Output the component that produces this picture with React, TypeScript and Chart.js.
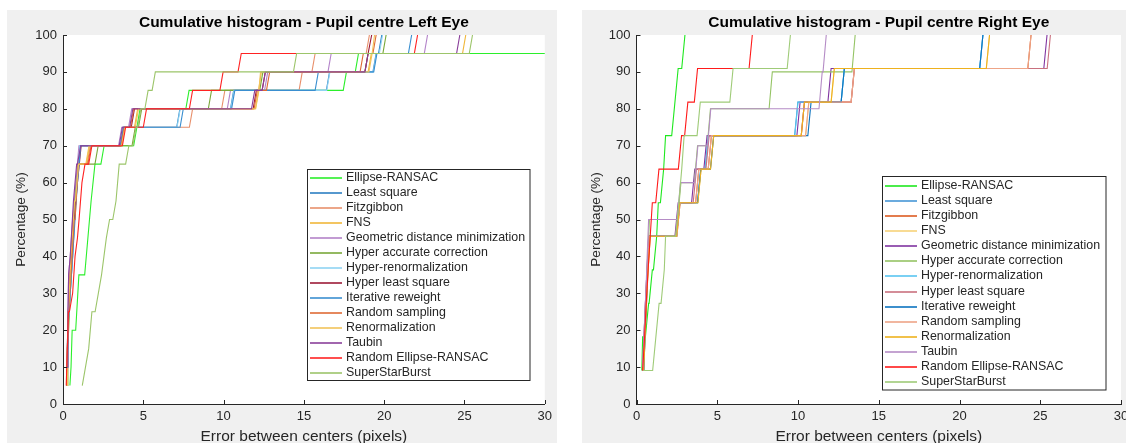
import React, { useEffect, useRef } from "react";
import { Chart, registerables } from "chart.js";

Chart.register(...registerables);

type Pt = [number, number];

const SERIES_NAMES = [
  "Ellipse-RANSAC",
  "Least square",
  "Fitzgibbon",
  "FNS",
  "Geometric distance minimization",
  "Hyper accurate correction",
  "Hyper-renormalization",
  "Hyper least square",
  "Iterative reweight",
  "Random sampling",
  "Renormalization",
  "Taubin",
  "Random Ellipse-RANSAC",
  "SuperStarBurst",
];

const X_TICKS = [0, 5, 10, 15, 20, 25, 30];
const Y_TICKS = [0, 10, 20, 30, 40, 50, 60, 70, 80, 90, 100];
const LEFT_TITLE = "Cumulative histogram - Pupil centre Left Eye";
const RIGHT_TITLE = "Cumulative histogram - Pupil centre Right Eye";
const X_LABEL = "Error between centers (pixels)";
const Y_LABEL = "Percentage (%)";

const LEFT_COLORS = [
  "#2bef2b", "#2c7fc2", "#e8906c", "#f0b73a", "#b383c9", "#7aa83a", "#8fd3f3",
  "#9c1a36", "#3a8fd0", "#df6a35", "#f2c35a", "#8a3f9a", "#ff2222", "#9cc56a",
];
const RIGHT_COLORS = [
  "#1fe81f", "#4797d6", "#dc5c22", "#f7d27a", "#8034a0", "#95c465", "#58c5f0",
  "#c9707e", "#0b73bf", "#eea487", "#eeb11e", "#b58cc6", "#ff1a1a", "#9fcb78",
];

// ---- Left eye: [error (px), cumulative %] at each histogram step ----
const leftEllipseRansac: Pt[] = [[0.43,5],[0.5,10],[0.57,20],[0.99,35],[1.55,45],[1.75,55],[1.99,65],[2.56,70],[4.6,75],[4.8,80],[7.85,85],[17.65,90],[18.4,95],[32,95]];
const leftLeastSquare: Pt[] = [[0.22,10],[0.3,20],[0.45,30],[0.6,40],[0.72,50],[0.87,60],[1.05,70],[3.75,75],[7.28,80],[10.63,85],[16.6,90],[19.5,95],[19.85,100]];
const leftFitzgibbon: Pt[] = [[0.22,5],[0.26,15],[0.33,25],[0.5,40],[0.7,55],[0.92,65],[1.7,70],[3.8,75],[8.07,80],[10.08,85],[14.9,90],[15.7,95],[19.08,100]];
const leftFNS: Pt[] = [[0.25,5],[0.28,15],[0.33,25],[0.5,40],[0.7,55],[0.95,65],[1.65,70],[3.85,75],[4.65,80],[12.18,85],[12.35,90],[19.2,95],[25.08,100]];
const leftGeometric: Pt[] = [[0.25,15],[0.3,25],[0.35,35],[0.45,40],[0.6,50],[0.8,60],[0.99,70],[3.66,75],[4.28,80],[10.43,85],[12.75,90],[16.7,95],[22.7,100]];
const leftHyperAccurate: Pt[] = [[0.25,5],[0.3,15],[0.4,25],[0.55,40],[0.75,55],[0.95,65],[2.19,70],[4.5,75],[4.9,80],[9.25,85],[12.45,90],[19.0,95],[20.12,100]];
const leftHyperRenorm: Pt[] = [[0.22,5],[0.26,10],[0.3,20],[0.45,30],[0.6,40],[0.72,50],[0.87,60],[1.05,70],[3.72,75],[7.3,80],[10.65,85],[16.62,90],[19.52,95],[19.9,100]];
const leftHyperLeast: Pt[] = [[0.25,5],[0.28,15],[0.33,25],[0.45,35],[0.65,50],[0.9,60],[1.13,70],[3.8,75],[4.45,80],[12.04,85],[12.6,90],[19.0,95],[19.22,100]];
const leftIterative: Pt[] = [[0.22,5],[0.25,10],[0.3,20],[0.45,30],[0.6,40],[0.75,50],[0.9,60],[1.1,70],[3.78,75],[7.49,80],[10.7,85],[15.9,90],[19.55,95],[21.71,100]];
const leftRandomSampling: Pt[] = [[0.22,5],[0.27,15],[0.35,25],[0.5,35],[0.7,50],[0.95,65],[1.75,70],[3.82,75],[4.4,80],[12.1,85],[12.87,90],[18.7,95],[19.5,100]];
const leftRenorm: Pt[] = [[0.25,5],[0.28,15],[0.33,25],[0.5,40],[0.72,55],[0.97,65],[1.62,70],[3.85,75],[4.7,80],[12.2,85],[12.3,90],[19.25,95],[19.4,100]];
const leftTaubin: Pt[] = [[0.25,10],[0.3,20],[0.35,35],[0.45,40],[0.65,55],[0.85,65],[1.1,70],[3.7,75],[4.35,80],[11.94,85],[12.6,90],[19.0,95],[24.71,100]];
const leftRandomEllipse: Pt[] = [[0.2,5],[0.27,15],[0.34,25],[0.6,30],[0.75,40],[0.9,45],[1.0,50],[1.18,60],[1.37,65],[1.8,70],[3.9,75],[5.2,80],[8.07,85],[9.97,90],[11.1,95],[22.08,100]];
const leftSuperStarBurst: Pt[] = [[1.2,5],[1.4,10],[1.6,15],[1.8,25],[2.2,30],[2.4,35],[2.55,40],[2.7,45],[2.9,50],[3.3,55],[3.5,65],[4.1,70],[4.55,75],[4.85,80],[5.3,85],[5.75,90],[14.55,95],[25.5,100]];

// ---- Right eye ----
const rightEllipseRansac: Pt[] = [[0.33,9.09],[0.38,18.18],[0.75,27.27],[0.98,36.36],[1.25,45.45],[1.35,54.55],[1.68,63.64],[1.8,72.73],[2.38,81.82],[2.58,90.91],[3.0,100]];
const rightLeastSquare: Pt[] = [[0.45,9.09],[0.52,18.18],[0.6,27.27],[0.68,36.36],[0.8,45.45],[2.68,54.55],[3.98,63.64],[4.45,72.73],[9.99,81.82],[12.87,90.91],[21.45,100]];
const rightFitzgibbon: Pt[] = [[0.42,9.09],[0.5,18.18],[0.58,27.27],[0.68,36.36],[0.8,45.45],[2.7,54.55],[3.86,63.64],[4.64,72.73],[10.4,81.82],[13.49,90.91],[24.43,100]];
const rightFNS: Pt[] = [[0.45,9.09],[0.53,18.18],[0.62,27.27],[0.72,36.36],[0.85,45.45],[2.68,54.55],[4.0,63.64],[4.78,72.73],[10.67,81.82],[12.25,90.91],[21.86,100]];
const rightGeometric: Pt[] = [[0.38,9.09],[0.46,18.18],[0.55,27.27],[0.65,36.36],[0.75,45.45],[2.58,54.55],[3.61,63.64],[4.37,72.73],[10.13,81.82],[12.05,90.91],[25.42,100]];
const rightHyperAccurate: Pt[] = [[0.4,10],[0.5,20],[0.6,30],[0.7,40],[0.8,50],[2.75,60],[3.78,70],[4.58,80],[8.41,90],[13.54,100]];
const rightHyperRenorm: Pt[] = [[0.45,9.09],[0.52,18.18],[0.6,27.27],[0.68,36.36],[0.8,45.45],[2.68,54.55],[3.98,63.64],[4.45,72.73],[10.0,81.82],[12.87,90.91],[21.45,100]];
const rightHyperLeast: Pt[] = [[0.38,9.09],[0.46,18.18],[0.55,27.27],[0.65,36.36],[0.78,45.45],[2.62,54.55],[3.71,63.64],[4.5,72.73],[10.4,81.82],[13.49,90.91],[25.63,100]];
const rightIterative: Pt[] = [[0.45,9.09],[0.53,18.18],[0.62,27.27],[0.7,36.36],[0.82,45.45],[2.68,54.55],[3.98,63.64],[4.78,72.73],[10.81,81.82],[12.87,90.91],[21.45,100]];
const rightRandomSampling: Pt[] = [[0.42,9.09],[0.5,18.18],[0.58,27.27],[0.68,36.36],[0.8,45.45],[2.7,54.55],[3.86,63.64],[4.64,72.73],[10.67,81.82],[13.49,90.91],[24.43,100]];
const rightRenorm: Pt[] = [[0.45,9.09],[0.53,18.18],[0.62,27.27],[0.72,36.36],[0.85,45.45],[2.68,54.55],[4.0,63.64],[4.78,72.73],[10.4,81.82],[12.25,90.91],[21.86,100]];
const rightTaubin: Pt[] = [[0.38,10],[0.48,20],[0.58,30],[0.66,40],[0.75,50],[2.72,60],[3.8,70],[4.6,80],[11.5,90],[11.75,100]];
const rightRandomEllipse: Pt[] = [[0.38,9.09],[0.5,18.18],[0.6,27.27],[0.72,36.36],[0.85,45.45],[0.98,54.55],[1.39,63.64],[2.79,72.73],[3.18,81.82],[3.78,90.91],[7.17,100]];
const rightSuperStarBurst: Pt[] = [[0.42,9.09],[1.2,18.18],[1.4,27.27],[1.72,36.36],[1.8,45.45],[2.62,54.55],[2.8,63.64],[2.95,72.73],[3.95,81.82],[5.98,90.91],[9.53,100]];

const LEFT_SERIES = [
  leftEllipseRansac, leftLeastSquare, leftFitzgibbon, leftFNS, leftGeometric, leftHyperAccurate,
  leftHyperRenorm, leftHyperLeast, leftIterative, leftRandomSampling, leftRenorm, leftTaubin,
  leftRandomEllipse, leftSuperStarBurst,
];
const RIGHT_SERIES = [
  rightEllipseRansac, rightLeastSquare, rightFitzgibbon, rightFNS, rightGeometric, rightHyperAccurate,
  rightHyperRenorm, rightHyperLeast, rightIterative, rightRandomSampling, rightRenorm, rightTaubin,
  rightRandomEllipse, rightSuperStarBurst,
];

const FONT = "'Liberation Sans', Arial, Helvetica, sans-serif";
const AXIS = "#262626";
const RISE = 0.2; // width of one histogram bin (slanted rise)

function stepPath(steps: Pt[], rise: number) {
  const out: { x: number; y: number }[] = [];
  steps.forEach(([x, y], i) => {
    if (i > 0) {
      const [px, py] = steps[i - 1];
      if (x - px > rise * 1.05) out.push({ x: x - rise, y: py });
    }
    out.push({ x, y });
  });
  return out;
}

type LegendGeom = { x: number; y: number; w: number; h: number; row0: number; rowH: number; line0: number; line1: number; text: number };

type PanelProps = {
  left: number;
  width: number;
  title: string;
  series: Pt[][];
  colors: string[];
  yWidth: number;
  padRight: number;
  legend: LegendGeom;
};

function Panel({ left, width, title, series, colors, yWidth, padRight, legend }: PanelProps) {
  const ref = useRef<HTMLCanvasElement | null>(null);
  const height = 433;

  useEffect(() => {
    if (!ref.current) return;
    const bgPlugin = {
      id: "plotBg",
      beforeDraw(chart: any) {
        const { ctx, chartArea: a } = chart;
        ctx.save();
        ctx.fillStyle = "#ffffff";
        ctx.fillRect(a.left, a.top, a.right - a.left, a.bottom - a.top);
        ctx.restore();
      },
    };
    const tickPlugin = {
      id: "inTicks",
      afterDraw(chart: any) {
        const { ctx, chartArea: a, scales } = chart;
        ctx.save();
        ctx.strokeStyle = AXIS;
        ctx.lineWidth = 1;
        ctx.beginPath();
        Y_TICKS.forEach((v) => {
          const py = Math.round(scales.y.getPixelForValue(v)) + 0.5;
          ctx.moveTo(a.left, py);
          ctx.lineTo(a.left + 4, py);
        });
        X_TICKS.forEach((v) => {
          const px = Math.round(scales.x.getPixelForValue(v)) + 0.5;
          ctx.moveTo(px, a.bottom);
          ctx.lineTo(px, a.bottom - 4);
        });
        ctx.stroke();
        ctx.restore();
      },
    };
    const legendPlugin = {
      id: "boxLegend",
      afterDatasetsDraw(chart: any) {
        const ctx = chart.ctx;
        const L = legend;
        ctx.save();
        ctx.fillStyle = "#ffffff";
        ctx.fillRect(L.x, L.y, L.w, L.h);
        ctx.strokeStyle = AXIS;
        ctx.lineWidth = 1;
        ctx.strokeRect(L.x, L.y, L.w, L.h);
        ctx.font = `12.4px ${FONT}`;
        ctx.textBaseline = "middle";
        ctx.textAlign = "left";
        SERIES_NAMES.forEach((name, i) => {
          const cy = Math.round(L.row0 + i * L.rowH);
          ctx.strokeStyle = colors[i];
          ctx.lineWidth = 1.6;
          ctx.beginPath();
          ctx.moveTo(L.line0, cy);
          ctx.lineTo(L.line1, cy);
          ctx.stroke();
          ctx.fillStyle = AXIS;
          ctx.fillText(name, L.text, cy);
        });
        ctx.restore();
      },
    };

    const chart = new Chart(ref.current, {
      type: "line",
      data: {
        datasets: series.map((s, i) => ({
          label: SERIES_NAMES[i],
          data: stepPath(s, RISE),
          borderColor: colors[i],
          backgroundColor: colors[i],
          borderWidth: 1.1,
          pointRadius: 0,
          tension: 0,
          fill: false,
          order: series.length - i,
        })),
      },
      options: {
        responsive: false,
        animation: false,
        devicePixelRatio: 1,
        events: [],
        layout: { padding: { left: 0, right: padRight, top: 0, bottom: 0 } },
        plugins: {
          legend: { display: false },
          tooltip: { enabled: false },
          title: {
            display: true,
            text: title,
            fullSize: false,
            color: "#000000",
            font: { family: FONT, size: 15.5, weight: "bold", lineHeight: 1.2 },
            padding: { top: 3.5, bottom: 2.9 },
          },
        },
        scales: {
          x: {
            type: "linear",
            min: 0,
            max: 30,
            afterFit: (s: any) => {
              s.height = 39;
            },
            afterBuildTicks: (s: any) => {
              s.ticks = X_TICKS.map((v) => ({ value: v }));
            },
            grid: { display: false, drawTicks: false },
            border: { display: true, color: AXIS, width: 1 },
            ticks: { color: AXIS, font: { family: FONT, size: 13 }, padding: 5, maxRotation: 0, autoSkip: false },
            title: {
              display: true,
              text: X_LABEL,
              color: AXIS,
              font: { family: FONT, size: 15.5, lineHeight: 1 },
              padding: { top: 0, bottom: -1.5 },
            },
          },
          y: {
            type: "linear",
            min: 0,
            max: 100,
            afterFit: (s: any) => {
              s.width = yWidth;
            },
            afterBuildTicks: (s: any) => {
              s.ticks = Y_TICKS.map((v) => ({ value: v }));
            },
            grid: { display: false, drawTicks: false },
            border: { display: true, color: AXIS, width: 1 },
            ticks: { color: AXIS, font: { family: FONT, size: 13 }, padding: 6, autoSkip: false },
            title: {
              display: true,
              text: Y_LABEL,
              color: AXIS,
              font: { family: FONT, size: 13.6, lineHeight: 1.2 },
              padding: { top: 6.5, bottom: 0 },
            },
          },
        },
      },
      plugins: [bgPlugin, tickPlugin, legendPlugin],
    } as any);
    return () => chart.destroy();
  }, []);

  return (
    <div style={{ position: "absolute", left, top: 10, width, height, background: "#f0f0f0" }}>
      <canvas ref={ref} width={width} height={height} style={{ width, height, display: "block" }} />
    </div>
  );
}

export default function App() {
  return (
    <div style={{ position: "absolute", left: 0, top: 0, width: 1126, height: 443, overflow: "hidden", background: "#ffffff" }}>
      <Panel
        left={7}
        width={550}
        title={LEFT_TITLE}
        series={LEFT_SERIES}
        colors={LEFT_COLORS}
        yWidth={56}
        padRight={12}
        legend={{ x: 300.5, y: 159.5, w: 222.5, h: 211, row0: 168.3, rowH: 14.95, line0: 303, line1: 335, text: 339 }}
      />
      <Panel
        left={582}
        width={558}
        title={RIGHT_TITLE}
        series={RIGHT_SERIES}
        colors={RIGHT_COLORS}
        yWidth={54.5}
        padRight={19}
        legend={{ x: 300.5, y: 166.5, w: 223.5, h: 213.5, row0: 176, rowH: 15.08, line0: 303, line1: 335, text: 339 }}
      />
    </div>
  );
}
